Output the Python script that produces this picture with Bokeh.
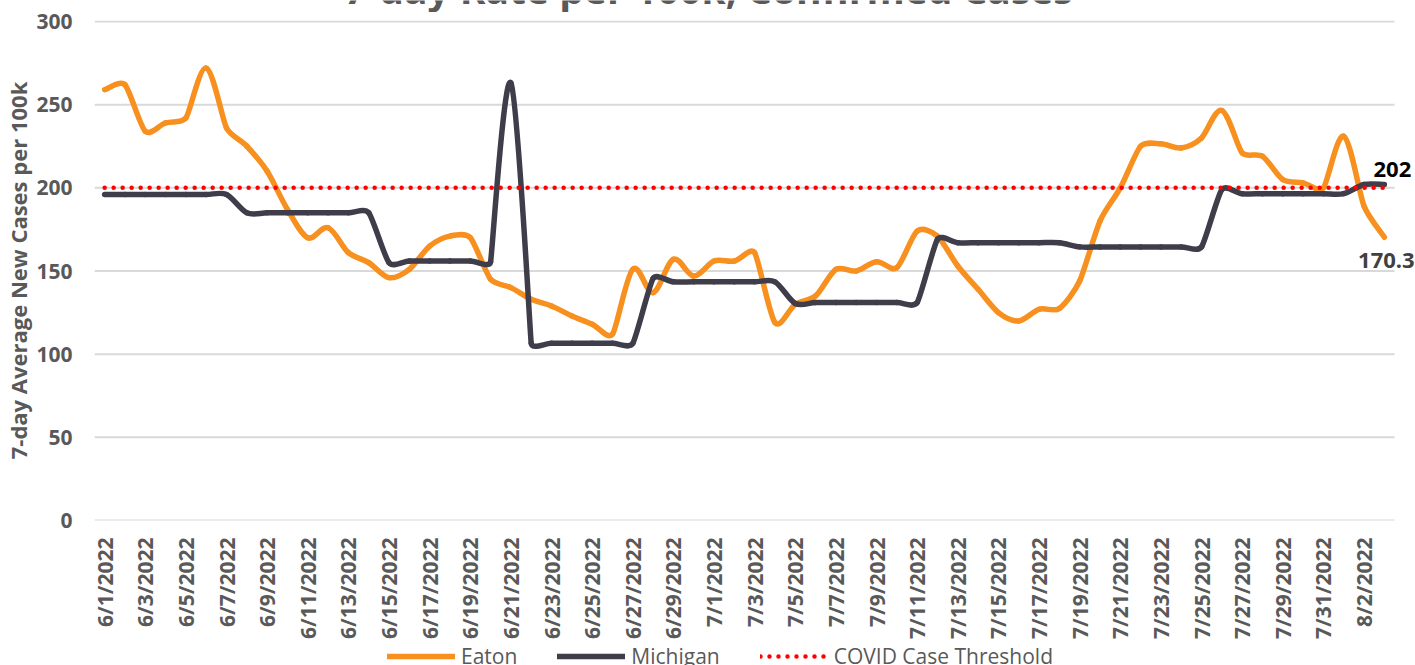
import math
from bokeh.plotting import figure
from bokeh.layouts import column
from bokeh.models import ColumnDataSource, FixedTicker, Legend, LegendItem, Label, Range1d
from bokeh.embed import file_html
from bokeh.resources import INLINE

# ---------------- data ----------------
dates = [
    "6/1/2022", "6/2/2022", "6/3/2022", "6/4/2022", "6/5/2022", "6/6/2022", "6/7/2022", "6/8/2022",
    "6/9/2022", "6/10/2022", "6/11/2022", "6/12/2022", "6/13/2022", "6/14/2022", "6/15/2022",
    "6/16/2022", "6/17/2022", "6/18/2022", "6/19/2022", "6/20/2022", "6/21/2022", "6/22/2022",
    "6/23/2022", "6/24/2022", "6/25/2022", "6/26/2022", "6/27/2022", "6/28/2022", "6/29/2022",
    "6/30/2022", "7/1/2022", "7/2/2022", "7/3/2022", "7/4/2022", "7/5/2022", "7/6/2022",
    "7/7/2022", "7/8/2022", "7/9/2022", "7/10/2022", "7/11/2022", "7/12/2022", "7/13/2022",
    "7/14/2022", "7/15/2022", "7/16/2022", "7/17/2022", "7/18/2022", "7/19/2022", "7/20/2022",
    "7/21/2022", "7/22/2022", "7/23/2022", "7/24/2022", "7/25/2022", "7/26/2022", "7/27/2022",
    "7/28/2022", "7/29/2022", "7/30/2022", "7/31/2022", "8/1/2022", "8/2/2022", "8/3/2022",
]

eaton = [
    259, 262, 234, 239, 242, 272, 236, 225, 210, 187,
    170, 176, 161, 155, 146, 151, 165, 171, 170, 145,
    140, 133, 129, 123, 118, 112, 151, 137, 157, 147,
    156, 156, 161, 119, 130, 135, 151, 150, 155.6, 152,
    174, 171, 153, 139, 125, 120, 127, 127.5, 144, 180,
    200, 225, 226.5, 224, 230, 246.5, 221, 219, 205, 203,
    200, 231, 189, 170.3,
]

michigan = [
    196, 196, 196, 196, 196, 196, 196,
    185, 185, 185, 185, 185, 185, 185,
    155, 156, 156, 156, 156, 155.5,
    263, 106.5, 106.5, 106.5, 106.5, 106.5, 106.5,
    145.5, 143.5, 143.5, 143.5, 143.5, 143.5, 143.5,
    130.5, 131, 131, 131, 131, 131, 131,
    169, 167, 167, 167, 167, 167, 167,
    164.5, 164.5, 164.5, 164.5, 164.5, 164.5, 164.5,
    199, 196.5, 196.5, 196.5, 196.5, 196.5, 196.5,
    202, 202,
]

threshold = 200

series_names = ["Eaton", "Michigan", "COVID Case Threshold"]
y_ticks = [0, 50, 100, 150, 200, 250, 300]

title_text = "7-day Rate per 100k, Confirmed Cases"
y_title = "7-day Average New Cases per 100k"

days = list(range(len(dates)))

# ---------------- style / layout ----------------
EATON_COLOR = "#F7901E"
MICH_COLOR = "#3F3D4A"
THRESH_COLOR = "#FF0000"
GRID_COLOR = "#D9D9D9"
TEXT_GRAY = "#595959"
FONT = "Open Sans"

W = 1415
H_TITLE, H_MAIN, H_LEG = 12, 631, 22
LEFT, TOP, BOTTOM = 94, 8, 123
FRAME_W, FRAME_H = W - LEFT, H_MAIN - TOP - BOTTOM
PX_PER_DAY = 1300 / len(days)          # category slot width of the plot area
PX_PER_UNIT = 499 / 300                # vertical scale of the plot area
x_start = days[0] - 0.5
x_end = x_start + FRAME_W / PX_PER_DAY
y_end = FRAME_H / PX_PER_UNIT


def smooth_source(xs, ys):
    """Excel-like smoothed line: cubic Bezier segments through every data point.
    Tangents are Catmull-Rom, limited to a third of the shorter neighbouring chord
    (computed in screen proportions)."""
    n = len(ys)
    P = [(x * PX_PER_DAY, y * PX_PER_UNIT) for x, y in zip(xs, ys)]

    def dist(a, b):
        return math.hypot(b[0] - a[0], b[1] - a[1])

    tang = []
    for i in range(n):
        a = P[max(i - 1, 0)]
        b = P[min(i + 1, n - 1)]
        tx, ty = (b[0] - a[0]) / 6.0, (b[1] - a[1]) / 6.0
        if 0 < i < n - 1:
            lim = min(dist(P[i - 1], P[i]), dist(P[i], P[i + 1])) / 3.0
        else:
            lim = dist(a, b) / 3.0
        ln = math.hypot(tx, ty)
        if ln > lim > 0:
            tx, ty = tx * lim / ln, ty * lim / ln
        tang.append((tx, ty))

    d = dict(x0=[], y0=[], x1=[], y1=[], cx0=[], cy0=[], cx1=[], cy1=[])
    for i in range(n - 1):
        d["x0"].append(xs[i]); d["y0"].append(ys[i])
        d["x1"].append(xs[i + 1]); d["y1"].append(ys[i + 1])
        d["cx0"].append((P[i][0] + tang[i][0]) / PX_PER_DAY)
        d["cy0"].append((P[i][1] + tang[i][1]) / PX_PER_UNIT)
        d["cx1"].append((P[i + 1][0] - tang[i + 1][0]) / PX_PER_DAY)
        d["cy1"].append((P[i + 1][1] - tang[i + 1][1]) / PX_PER_UNIT)
    return ColumnDataSource(d)


x_range = Range1d(x_start, x_end)


def strip(height):
    # strips share the chart's x range; their plot areas line up with the chart's
    f = figure(width=W, height=height, x_range=x_range, y_range=(0, height),
               x_axis_location=None, y_axis_location=None,
               output_backend="svg", toolbar_location=None,
               min_border_left=LEFT, min_border_right=0, min_border_top=0, min_border_bottom=0)
    f.grid.grid_line_color = None
    f.outline_line_color = None
    f.background_fill_color = "white"
    f.border_fill_color = "white"
    return f


# ---------------- title strip (title cut off at the top, as in the reference) ----------------
top = strip(H_TITLE)
top.add_layout(Label(x=29.73, y=H_TITLE + 12, text=title_text, text_align="center",
                     text_baseline="middle", text_font=FONT, text_font_style="bold",
                     text_font_size="39px", text_color=TEXT_GRAY))

# ---------------- main chart ----------------
p = figure(
    width=W, height=H_MAIN,
    x_range=x_range, y_range=(0, y_end),
    output_backend="svg", toolbar_location=None,
    min_border_left=LEFT, min_border_right=0, min_border_top=TOP, min_border_bottom=BOTTOM,
)
p.outline_line_color = None
p.background_fill_color = "white"
p.border_fill_color = "white"
p.grid.grid_line_color = None

# horizontal gridlines across the category area
p.segment(x0=[days[0] - 0.5] * len(y_ticks), x1=[days[-1] + 0.5] * len(y_ticks),
          y0=y_ticks, y1=y_ticks, line_color=GRID_COLOR, line_width=2)

# y axis
p.yaxis.ticker = FixedTicker(ticks=y_ticks)
p.yaxis.axis_line_color = None
p.yaxis.major_tick_line_color = None
p.yaxis.minor_tick_line_color = None
p.yaxis.major_tick_out = 0
p.yaxis.major_tick_in = 0
p.yaxis.minor_tick_out = 0
p.yaxis.minor_tick_in = 0
p.yaxis.major_label_standoff = 22
p.yaxis.major_label_text_font = FONT
p.yaxis.major_label_text_font_style = "bold"
p.yaxis.major_label_text_font_size = "21px"
p.yaxis.major_label_text_color = TEXT_GRAY
p.yaxis.axis_label = y_title
p.yaxis.axis_label_standoff = 0
p.yaxis.axis_label_text_font = FONT
p.yaxis.axis_label_text_font_style = "bold"
p.yaxis.axis_label_text_font_size = "22px"
p.yaxis.axis_label_text_color = TEXT_GRAY

# x axis
even_days = days[::2]
p.xaxis.ticker = FixedTicker(ticks=even_days)
p.xaxis.major_label_overrides = {d: dates[d] for d in even_days}
p.xaxis.major_label_orientation = math.pi / 2
p.xaxis.axis_line_color = None
p.xaxis.major_tick_line_color = None
p.xaxis.minor_tick_line_color = None
p.xaxis.major_tick_out = 0
p.xaxis.major_tick_in = 0
p.xaxis.minor_tick_out = 0
p.xaxis.minor_tick_in = 0
p.xaxis.major_label_standoff = 17
p.xaxis.major_label_text_font = FONT
p.xaxis.major_label_text_font_style = "bold"
p.xaxis.major_label_text_font_size = "21px"
p.xaxis.major_label_text_color = TEXT_GRAY

# series
bez_kw = dict(x0="x0", y0="y0", x1="x1", y1="y1", cx0="cx0", cy0="cy0", cx1="cx1", cy1="cy1")
eaton_style = dict(line_color=EATON_COLOR, line_width=5.5, line_cap="round")
mich_style = dict(line_color=MICH_COLOR, line_width=5.5, line_cap="round")
thr_style = dict(line_color=THRESH_COLOR, line_width=4.5, line_dash="0 9", line_cap="round")

p.bezier(source=smooth_source(days, eaton), **eaton_style, **bez_kw)
p.bezier(source=smooth_source(days, michigan), **mich_style, **bez_kw)
p.line(days, [threshold for _ in days], **thr_style)

# data labels for the last values
p.add_layout(Label(x=days[-1], y=michigan[-1], text=f"{michigan[-1]:g}",
                   x_offset=8, y_offset=15, text_align="center", text_baseline="middle",
                   text_font=FONT, text_font_style="bold", text_font_size="22px",
                   text_color="#000000"))
p.add_layout(Label(x=days[-1], y=eaton[-1], text=f"{eaton[-1]:g}",
                   x_offset=2, y_offset=-23, text_align="center", text_baseline="middle",
                   text_font=FONT, text_font_style="bold", text_font_size="22px",
                   text_color="#404040"))

# ---------------- legend strip (below the chart) ----------------
leg = strip(H_LEG)
# the same series (outside this strip's view) give the legend its glyphs
l_eaton = leg.line([d - 1000 for d in days], eaton, **eaton_style)
l_mich = leg.line([d - 1000 for d in days], michigan, **mich_style)
l_thr = leg.line([d - 1000 for d in days], [threshold for _ in days], **thr_style)

legend = Legend(
    items=[LegendItem(label=series_names[0], renderers=[l_eaton]),
           LegendItem(label=series_names[1], renderers=[l_mich]),
           LegendItem(label=series_names[2], renderers=[l_thr])],
    location=(387 - LEFT, -5), orientation="horizontal",
    glyph_width=68, glyph_height=20, label_standoff=6, spacing=40,
    padding=0, margin=0, border_line_color=None, background_fill_alpha=0,
    label_text_font=FONT, label_text_font_size="21px", label_text_color=TEXT_GRAY,
)
leg.add_layout(legend)

layout = column(top, p, leg, spacing=0)
open("out.html", "w").write(file_html(layout, INLINE))
